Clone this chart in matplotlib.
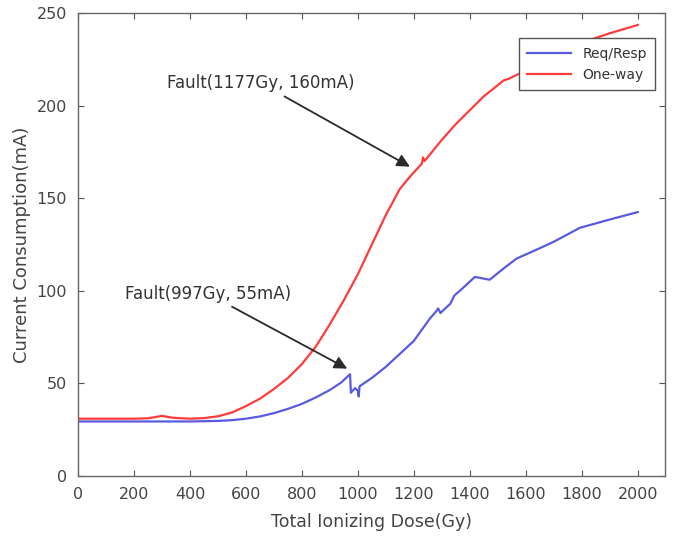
import numpy as np
import matplotlib.pyplot as plt

# One-way (red) curve
oneway_dose = [0, 100, 200, 250, 300, 340, 400, 450, 500, 550, 600, 650, 700, 750,
               800, 850, 900, 950, 1000, 1050, 1100, 1150, 1177, 1200, 1228, 1233,
               1238, 1300, 1350, 1400, 1450, 1500, 1520, 1540, 1600, 1700, 1800,
               1900, 2000]
oneway_current = [31, 31, 31, 31.2, 32.5, 31.5, 31, 31.3, 32.3, 34.3, 37.8, 41.8, 47,
                  53, 60.5, 70, 82, 95, 109, 125, 141, 155, 160, 164, 168.5, 172,
                  170, 181.5, 190, 197.5, 205, 211, 213.5, 214.5, 219, 227.5, 234,
                  239, 243.5]

# Req/Resp (blue) curve
reqresp_dose = [0, 100, 200, 300, 400, 500, 550, 600, 650, 700, 750, 800, 850, 900,
                940, 972, 975, 990, 1000, 1003, 1006, 1050, 1100, 1150, 1200, 1257,
                1280, 1287, 1295, 1305, 1330, 1340, 1345, 1364, 1418, 1471, 1520,
                1568, 1650, 1700, 1793, 1900, 2000]
reqresp_current = [29.5, 29.5, 29.5, 29.5, 29.5, 29.8, 30.2, 31, 32.2, 34, 36.3, 39,
                   42.5, 46.5, 50.5, 55, 45, 47.5, 46, 43, 48.5, 53, 59, 66, 73,
                   85, 89, 90.5, 88, 89.5, 93, 96, 97.5, 100, 107.5, 106, 112, 117.5,
                   123, 126.5, 134, 138.5, 142.5]

x_ticks = [0, 200, 400, 600, 800, 1000, 1200, 1400, 1600, 1800, 2000]
y_ticks = [0, 50, 100, 150, 200, 250]

fig = plt.figure(figsize=(6.75, 5.38), dpi=100)
ax = fig.add_axes([0.1156, 0.115, 0.869, 0.861])

ax.plot(reqresp_dose, reqresp_current, color='#5a5ae0', lw=1.6, label='Req/Resp')
ax.plot(oneway_dose, oneway_current, color='#ff3b3b', lw=1.6, label='One-way')

ax.set_xlim(0, 2096)
ax.set_ylim(0, 250)
ax.set_xticks(x_ticks)
ax.set_yticks(y_ticks)
ax.tick_params(direction='in', top=True, right=True, length=4, width=0.8,
               colors='#555555', labelcolor='#444444', labelsize=11.5, pad=8)
for sp in ax.spines.values():
    sp.set_color('#666666')
    sp.set_linewidth(1.0)

ax.set_xlabel('Total Ionizing Dose(Gy)', fontsize=12.5, color='#444444', labelpad=8)
ax.set_ylabel('Current Consumption(mA)', fontsize=13, color='#444444', labelpad=4)

arrow = dict(arrowstyle='-|>', color='#2a2a2a', lw=1.3, mutation_scale=19,
             shrinkA=2, shrinkB=0)
ax.annotate('Fault(1177Gy, 160mA)', xy=(1186, 167), xytext=(989, 212),
            ha='right', va='center', fontsize=12, color='#333333', arrowprops=arrow)
ax.annotate('Fault(997Gy, 55mA)', xy=(962, 58), xytext=(760, 98.5),
            ha='right', va='center', fontsize=12, color='#333333', arrowprops=arrow)

leg = ax.legend(loc='upper right', fontsize=10, frameon=True, fancybox=False,
                edgecolor='#555555', framealpha=1, borderpad=0.6, handlelength=3.2,
                bbox_to_anchor=(0.996, 0.96))
leg.get_frame().set_linewidth(1.0)
for t in leg.get_texts():
    t.set_color('#333333')

fig.savefig('out.png', dpi=100)
